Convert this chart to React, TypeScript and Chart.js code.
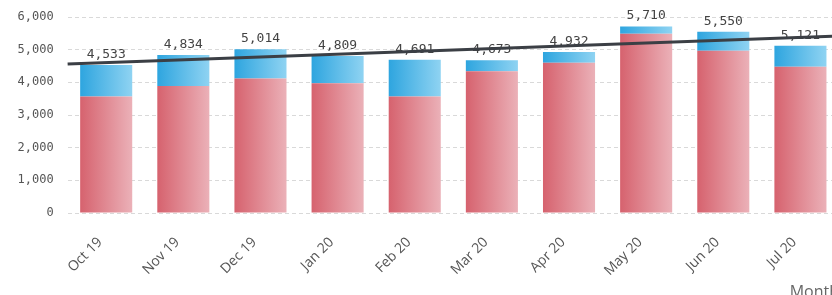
import React, { useEffect, useRef } from "react";
import { Chart, registerables } from "chart.js";

Chart.register(...registerables);

const categories = ["Oct 19", "Nov 19", "Dec 19", "Jan 20", "Feb 20", "Mar 20", "Apr 20", "May 20", "Jun 20", "Jul 20"];
const totals = [4533, 4834, 5014, 4809, 4691, 4673, 4932, 5710, 5550, 5121];
const redValues = [3570, 3890, 4120, 3970, 3570, 4340, 4600, 5490, 4970, 4480];
const blueValues = totals.map((t, i) => t - redValues[i]);
const yTicks = [0, 1000, 2000, 3000, 4000, 5000, 6000];

const BAR_PCT = 0.675;

function trend(): { a: number; b: number } {
  const n = totals.length;
  const mx = (n - 1) / 2;
  const my = totals.reduce((s, v) => s + v, 0) / n;
  let sxy = 0;
  let sxx = 0;
  totals.forEach((v, i) => {
    sxy += (i - mx) * (v - my);
    sxx += (i - mx) * (i - mx);
  });
  const b = sxy / sxx;
  return { a: my - b * mx, b };
}

function barGradient(stops: [string, string], fallback: string) {
  return (ctx: any) => {
    const chart = ctx.chart;
    const xs = chart.scales && chart.scales.x;
    if (!xs || ctx.dataIndex == null || !isFinite(xs.width) || xs.width <= 0) return fallback;
    const cx = xs.getPixelForValue(ctx.dataIndex);
    const w = (xs.width / categories.length) * BAR_PCT;
    const g = chart.ctx.createLinearGradient(cx - w / 2, 0, cx + w / 2, 0);
    g.addColorStop(0, stops[0]);
    g.addColorStop(1, stops[1]);
    return g;
  };
}

export default function App() {
  const ref = useRef<HTMLCanvasElement | null>(null);
  useEffect(() => {
    const canvas = ref.current;
    if (!canvas) return;
    const { a, b } = trend();
    const x0 = -0.5;
    const x1 = categories.length - 0.5;
    const labelPlugin = {
      id: "totals",
      afterDatasetDraw(chart: any, args: any) {
        if (args.index !== 1) return;
        const c = chart.ctx;
        const meta = chart.getDatasetMeta(1);
        c.save();
        c.font = "13px 'DejaVu Sans Mono'";
        c.fillStyle = "#444";
        c.textAlign = "center";
        c.textBaseline = "alphabetic";
        meta.data.forEach((el: any, i: number) => {
          c.fillText(totals[i].toLocaleString("en-US"), el.x, el.y - 7);
        });
        c.restore();
      },
    };
    const chart = new Chart(canvas, {
      type: "bar",
      data: {
        labels: categories,
        datasets: [
          {
            type: "bar",
            data: redValues,
            backgroundColor: barGradient(["#d6626e", "#ebb1b8"], "#e08a94"),
            barPercentage: BAR_PCT,
            categoryPercentage: 1,
            order: 1,
            stack: "s",
          },
          {
            type: "bar",
            data: blueValues,
            backgroundColor: barGradient(["#2ea5df", "#8fd3f2"], "#5bbce8"),
            barPercentage: BAR_PCT,
            categoryPercentage: 1,
            order: 1,
            stack: "s",
          },
          {
            type: "line",
            parsing: false,
            data: [
              { x: x0, y: a + b * x0 },
              { x: x1, y: a + b * x1 },
            ],
            borderColor: "#3b3f45",
            borderWidth: 3,
            pointRadius: 0,
            fill: false,
            order: 0,
            stack: "t",
          } as any,
        ],
      },
      options: {
        responsive: false,
        animation: false,
        layout: { padding: { left: 3.5, top: 17, right: 7, bottom: 0 } },
        plugins: { legend: { display: false }, tooltip: { enabled: false } },
        scales: {
          x: {
            stacked: true,
            grid: { display: false },
            border: { display: false },
            ticks: {
              minRotation: 45,
              maxRotation: 45,
              color: "#555",
              font: { family: "'Open Sans'", size: 14 },
              padding: 13,
              labelOffset: -6,
            },
            title: {
              display: true,
              text: "Month",
              align: "end",
              color: "#666",
              font: { family: "'Open Sans'", size: 16 },
              padding: { top: 0, bottom: -7 },
            },
            afterFit: (s: any) => {
              s.height = 82;
            },
          },
          y: {
            stacked: true,
            min: 0,
            max: 6000,
            afterBuildTicks: (s: any) => {
              s.ticks = yTicks.map((v) => ({ value: v }));
            },
            afterFit: (s: any) => {
              s.paddingTop = 0;
              s.paddingBottom = 0;
            },
            grid: {
              color: "#d9d9d9",
              drawTicks: false,
              lineWidth: 1,
            },
            border: { display: false, dash: [4, 3] },
            ticks: {
              color: "#555",
              font: { family: "'DejaVu Sans Mono'", size: 12 },
              padding: 14,
            },
          },
        },
      },
      plugins: [labelPlugin],
    });
    return () => chart.destroy();
  }, []);
  return (
    <div style={{ position: "absolute", left: 0, top: 0, width: 832, height: 295, overflow: "hidden", background: "#fff" }}>
      <canvas ref={ref} width={846} height={295} style={{ display: "block" }} />
    </div>
  );
}
